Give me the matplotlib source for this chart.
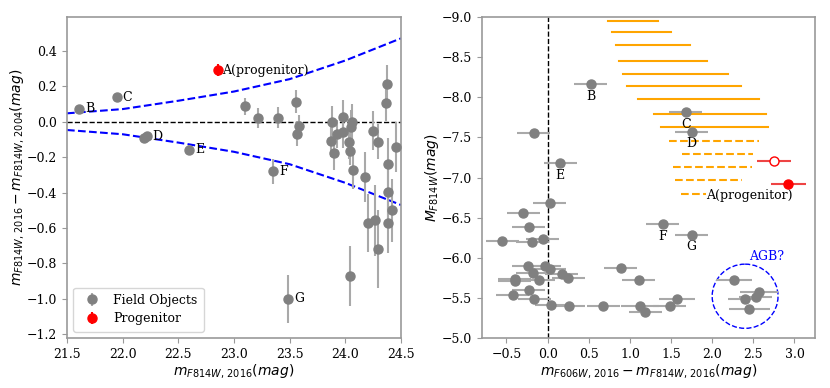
import numpy as np
import matplotlib.pyplot as plt
from matplotlib.patches import Circle

plt.rcParams['font.family'] = 'serif'
plt.rcParams['font.serif'] = ['DejaVu Serif']
plt.rcParams['mathtext.fontset'] = 'dejavusans'

# ---- left panel: magnitude change vs 2016 magnitude ----
field_m2016 = [21.61, 21.95, 22.195, 22.216, 22.60, 23.354, 23.488,
               23.102, 23.219, 23.398, 23.553, 23.580, 23.562,
               23.878, 23.977, 24.058, 24.049, 23.983, 23.923, 23.872, 24.034,
               23.902, 24.043, 24.067, 24.178, 24.246, 24.291, 24.378, 24.369,
               24.458, 24.381, 24.387,
               24.204, 24.270, 24.384, 24.417, 24.290, 24.045]
field_dm = [0.072, 0.137, -0.094, -0.081, -0.158, -0.280, -1.0,
            0.088, 0.021, 0.023, 0.113, -0.024, -0.069,
            0.0, 0.028, 0.0, -0.032, -0.056, -0.071, -0.109, -0.113,
            -0.178, -0.163, -0.272, -0.313, -0.052, -0.113, 0.211, 0.104,
            -0.143, -0.240, -0.398,
            -0.573, -0.556, -0.569, -0.501, -0.717, -0.869]
field_dm_err = [0.012, 0.012, 0.02, 0.02, 0.026, 0.07, 0.135,
                0.048, 0.055, 0.06, 0.066, 0.06, 0.07,
                0.09, 0.094, 0.1, 0.1, 0.09, 0.08, 0.09, 0.1,
                0.094, 0.08, 0.11, 0.14, 0.11, 0.1, 0.11, 0.1,
                0.14, 0.15, 0.15,
                0.165, 0.2, 0.17, 0.18, 0.22, 0.17]
prog_m2016 = 22.857
prog_dm = 0.29
prog_dm_err = 0.035

left_labels = ['B', 'C', 'D', 'E', 'F', 'G']
left_label_idx = [0, 1, 3, 4, 5, 6]

# error envelope
env_x = [21.5, 22.0, 22.5, 23.0, 23.5, 24.0, 24.5]
env_y = [0.047, 0.071, 0.118, 0.170, 0.240, 0.345, 0.470]

# ---- right panel: colour-magnitude diagram ----
cmd_color = [0.526, -0.166, 0.153, 1.677, 1.750,
             0.028, -0.296, -0.227, -0.552, -0.187, -0.061,
             -0.236, -0.033, 0.028, -0.182, 0.170, 0.250, -0.397, -0.397, -0.106,
             -0.227, -0.425, -0.163, 0.044, 0.259, 0.676,
             0.891, 1.109, 1.125, 1.186, 1.486, 1.575,
             1.401, 1.750,
             2.268, 2.567, 2.527, 2.397, 2.450]
cmd_mag = [-8.166, -7.557, -7.175, -7.813, -7.573,
           -6.678, -6.562, -6.379, -6.214, -6.201, -6.230,
           -5.898, -5.903, -5.857, -5.807, -5.795, -5.745, -5.733, -5.704, -5.724,
           -5.600, -5.530, -5.488, -5.409, -5.397, -5.397,
           -5.873, -5.720, -5.397, -5.318, -5.397, -5.484,
           -6.417, -6.284,
           -5.724, -5.575, -5.509, -5.484, -5.360]
cmd_color_err = [0.2, 0.2, 0.2, 0.2, 0.2,
                 0.2, 0.2, 0.2, 0.2, 0.2, 0.2,
                 0.2, 0.2, 0.2, 0.2, 0.2, 0.2, 0.2, 0.2, 0.2,
                 0.2, 0.2, 0.2, 0.2, 0.2, 0.2,
                 0.2, 0.2, 0.23, 0.2, 0.2, 0.22,
                 0.2, 0.2,
                 0.22, 0.23, 0.2, 0.2, 0.25]
right_labels = ['B', 'C', 'D', 'E', 'F', 'G']
right_label_idx = [0, 3, 4, 2, 32, 33]

prog_color = [2.750, 2.924]
prog_mag = [-7.204, -6.923]
prog_color_err = [0.21, 0.21]

# orange colour ranges (solid, then dashed)
band_mag = [-8.946, -8.809, -8.647, -8.453, -8.295, -8.137, -7.975, -7.797, -7.627,
            -7.461, -7.287, -7.129, -6.968, -6.798]
band_lo = [0.737, 0.785, 0.834, 0.862, 0.915, 0.968, 1.097, 1.296, 1.381,
           1.474, 1.636, 1.526, 1.547, 1.62]
band_hi = [1.337, 1.498, 1.733, 1.935, 2.187, 2.345, 2.572, 2.653, 2.673,
           2.572, 2.499, 2.479, 2.357, 1.93]
band_dashed = [False] * 9 + [True] * 5

fig = plt.figure(figsize=(8.3, 3.88), dpi=100)
ax1 = fig.add_axes([0.0807, 0.129, 0.4024, 0.827])
ax2 = fig.add_axes([0.5804, 0.129, 0.4016, 0.827])

# left
ax1.errorbar(field_m2016, field_dm, yerr=field_dm_err, fmt='o', color='gray',
             ecolor='darkgray', elinewidth=1.5, markersize=6.5, label='Field Objects', zorder=3)
ax1.errorbar([prog_m2016], [prog_dm], yerr=[prog_dm_err], fmt='o', color='red',
             ecolor='red', elinewidth=1.5, markersize=6.5, label='Progenitor', zorder=3)
ax1.axhline(0, color='black', ls='--', lw=1)
ax1.plot(env_x, env_y, color='blue', ls='--', lw=1.5)
ax1.plot(env_x, [-v for v in env_y], color='blue', ls='--', lw=1.5)
for lab, i in zip(left_labels, left_label_idx):
    ax1.text(field_m2016[i] + 0.05, field_dm[i], lab, ha='left', va='center', fontsize=9)
ax1.text(prog_m2016 + 0.04, prog_dm, 'A(progenitor)', ha='left', va='center', fontsize=9)
ax1.set_xlim(21.5, 24.5)
ax1.set_ylim(-1.22, 0.59)
ax1.set_xticks(np.arange(21.5, 24.51, 0.5))
ax1.set_yticks(np.arange(-1.2, 0.41, 0.2))
ax1.set_xlabel(r'$m_{F814W,\,2016}(mag)$', fontsize=10, labelpad=1)
ax1.set_ylabel(r'$m_{F814W,\,2016}-m_{F814W,\,2004}(mag)$', fontsize=10, labelpad=0.5)
ax1.legend(loc='lower left', fontsize=9, borderpad=0.5, handletextpad=0.7,
           labelspacing=0.45)

# right
for m, lo, hi, d in zip(band_mag, band_lo, band_hi, band_dashed):
    ax2.plot([lo, hi], [m, m], color='orange', lw=1.5, ls='--' if d else '-')
ax2.errorbar(cmd_color, cmd_mag, xerr=cmd_color_err, fmt='o', color='gray',
             ecolor='darkgray', elinewidth=1.5, markersize=6.5, zorder=3)
ax2.errorbar([prog_color[0]], [prog_mag[0]], xerr=[prog_color_err[0]], fmt='o',
             mfc='white', mec='red', color='#ee4444', ecolor='#ee4444',
             elinewidth=1.5, markersize=6.5, zorder=3)
ax2.errorbar([prog_color[1]], [prog_mag[1]], xerr=[prog_color_err[1]], fmt='o',
             color='red', ecolor='#ee4444', elinewidth=1.5, markersize=6.5, zorder=3)
ax2.axvline(0, color='black', ls='--', lw=1)
for lab, i in zip(right_labels, right_label_idx):
    ax2.text(cmd_color[i], cmd_mag[i] + 0.15, lab, ha='center', va='center', fontsize=9)
ax2.text(2.45, -6.77, 'A(progenitor)', ha='center', va='center', fontsize=9)
ax2.add_patch(Circle((2.4, -5.52), 0.4, fill=False, ls='--', color='blue', lw=1))
ax2.text(2.66, -6.015, 'AGB?', ha='center', va='center', fontsize=9, color='blue')
ax2.set_xlim(-0.8, 3.25)
ax2.set_ylim(-5.0, -9.0)
ax2.set_xticks(np.arange(-0.5, 3.01, 0.5))
ax2.set_yticks(np.arange(-9.0, -4.99, 0.5))
ax2.set_xlabel(r'$m_{F606W,\,2016}-m_{F814W,\,2016}(mag)$', fontsize=10, labelpad=1)
ax2.set_ylabel(r'$M_{F814W}(mag)$', fontsize=10, labelpad=0.5)

for ax in (ax1, ax2):
    for s in ax.spines.values():
        s.set_color('#999999')
        s.set_linewidth(1.2)
    ax.tick_params(labelsize=9, color='#999999', length=3.5)

plt.savefig('out.png')
